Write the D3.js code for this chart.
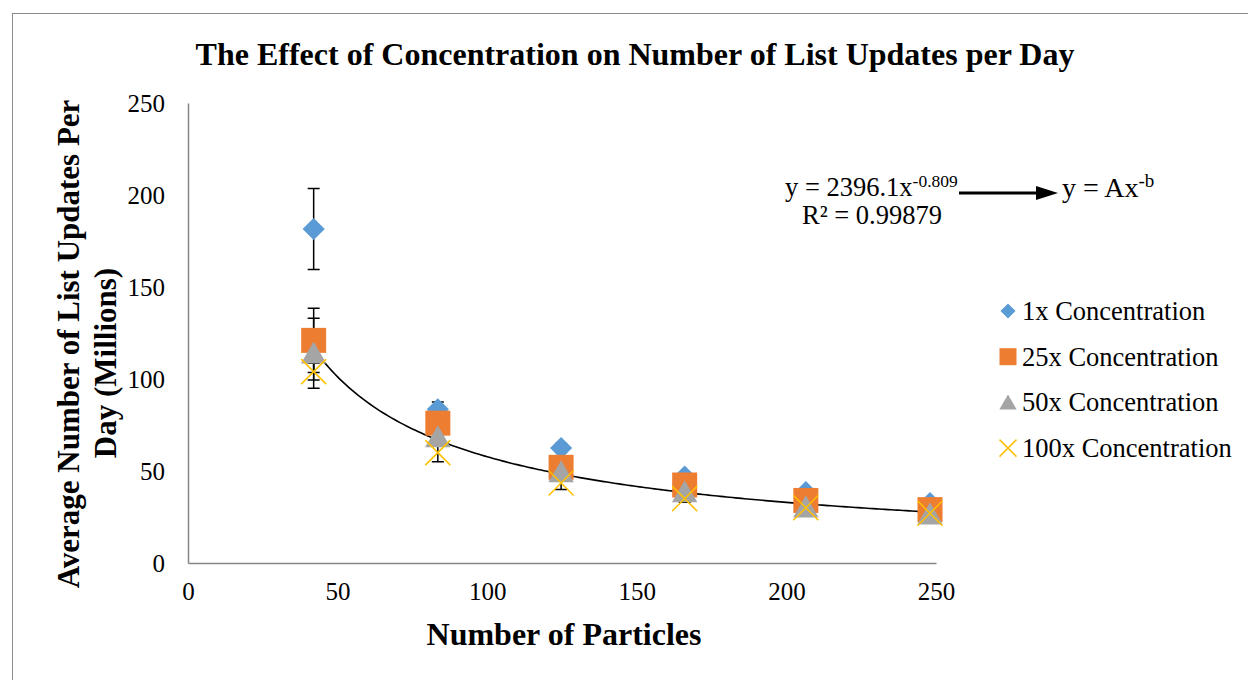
<!DOCTYPE html>
<html>
<head>
<meta charset="utf-8">
<script src="https://cdn.jsdelivr.net/npm/d3@7"></script>
<style>
  body { margin: 0; background: #fff; }
  text { font-family: "Liberation Serif", "Times New Roman", serif; fill: #000; }
</style>
</head>
<body>
<div id="chart"></div>
<script>
// particle counts (x) and mean list updates per day, millions (y)
var particles = [42, 83.5, 124.7, 166, 206.5, 248];
var seriesNames = ['1x Concentration', '25x Concentration', '50x Concentration', '100x Concentration'];
var conc1x   = [181.5, 83.5, 62.5, 47, 38.6, 32.6];
var conc25x  = [121, 76, 52, 42.4, 34, 29];
var conc50x  = [114, 68.5, 49.5, 38.6, 30.4, 26.6];
var conc100x = [104, 60, 43.5, 35, 30, 27];
// error bar half widths
var err1x   = [22, 4, 2.5, 2, 1.5, 1.5];
var err25x  = [17.5, 4, 2.5, 2, 1.5, 1.5];
var err50x  = [19, 5, 3, 2, 1.5, 1.5];
var err100x = [4.5, 5, 3.5, 2, 1.5, 1.5];
var xTicks = [0, 50, 100, 150, 200, 250];
var yTicks = [0, 50, 100, 150, 200, 250];
// power trendline y = A x^-b, as printed on the chart
var trendA = 2396.1, trendB = 0.809;

var series = [
  {name: seriesNames[0], values: conc1x, errs: err1x, shape: d3.symbolDiamond2, color: '#5B9BD5'},
  {name: seriesNames[1], values: conc25x, errs: err25x, shape: d3.symbolSquare, color: '#ED7D31'},
  {name: seriesNames[2], values: conc50x, errs: err50x, shape: d3.symbolTriangle, color: '#A5A5A5'},
  {name: seriesNames[3], values: conc100x, errs: err100x, shape: 'cross', color: '#FFC000'}
];

var W = 1248, H = 680;
var margin = {top: 103, right: 312, bottom: 117, left: 188};
var width = 936 - margin.left;
var height = 563 - margin.top;

var svg = d3.select('#chart').append('svg')
  .attr('width', W)
  .attr('height', H);

// outer chart frame
svg.append('rect')
  .attr('x', 12.5).attr('y', 13.5)
  .attr('width', W).attr('height', H)
  .attr('fill', 'none')
  .attr('stroke', '#8c8c8c')
  .attr('stroke-width', 1);

var x = d3.scaleLinear().domain([0, 250]).range([0, width]);
var y = d3.scaleLinear().domain([0, 250]).range([height, 0]);

var g = svg.append('g')
  .attr('transform', 'translate(' + margin.left + ',' + margin.top + ')');

// x axis
var xAxis = g.append('g')
  .attr('transform', 'translate(0,' + height + ')')
  .call(d3.axisBottom(x).tickValues(xTicks).tickSize(0).tickPadding(19));
// y axis
var yAxis = g.append('g')
  .call(d3.axisLeft(y).tickValues(yTicks).tickSize(0).tickPadding(23));

[xAxis, yAxis].forEach(function(ax) {
  ax.select('.domain').attr('stroke', '#868686').attr('stroke-width', 1.5);
  ax.selectAll('text')
    .style('font-family', '"Liberation Serif", serif')
    .style('font-size', '25px')
    .attr('fill', '#000');
});

// trendline
var trendX = d3.range(particles[0], particles[particles.length - 1] + 0.5, 1);
var trendLine = d3.line()
  .x(function(d) { return x(d); })
  .y(function(d) { return y(trendA * Math.pow(d, -trendB)); });
g.append('path')
  .datum(trendX)
  .attr('d', trendLine)
  .attr('fill', 'none')
  .attr('stroke', '#000')
  .attr('stroke-width', 1.6);

// markers
function drawMarker(sel, s, size) {
  if (s.shape === 'cross') {
    var h = size / 2;
    sel.append('path')
      .attr('d', 'M' + (-h) + ',' + (-h) + 'L' + h + ',' + h + 'M' + (-h) + ',' + h + 'L' + h + ',' + (-h))
      .attr('stroke', s.color)
      .attr('stroke-width', 1.5)
      .attr('fill', 'none');
  } else {
    var area = s.shape === d3.symbolSquare ? size * size :
      s.shape === d3.symbolTriangle ? size * size * 0.45 : size * size * 0.5;
    sel.append('path')
      .attr('d', d3.symbol().type(s.shape).size(area)())
      .attr('fill', s.color)
      .attr('transform', s.shape === d3.symbolTriangle ? 'translate(0,' + (size * 0.12) + ')' : null);
  }
}

// error bars then markers, per series
series.forEach(function(s) {
  var eb = g.append('g');
  particles.forEach(function(px, i) {
    var cx = x(px), hi = y(s.values[i] + s.errs[i]), lo = y(s.values[i] - s.errs[i]);
    eb.append('path')
      .attr('d', 'M' + cx + ',' + hi + 'V' + lo +
        'M' + (cx - 6) + ',' + hi + 'H' + (cx + 6) +
        'M' + (cx - 6) + ',' + lo + 'H' + (cx + 6))
      .attr('stroke', '#000')
      .attr('stroke-width', 1.5)
      .attr('fill', 'none');
  });
});
series.forEach(function(s) {
  particles.forEach(function(px, i) {
    var m = g.append('g')
      .attr('transform', 'translate(' + x(px) + ',' + y(s.values[i]) + ')');
    drawMarker(m, s, 25);
  });
});

// title
svg.append('text')
  .attr('x', 635).attr('y', 65)
  .attr('text-anchor', 'middle')
  .style('font-size', '32px')
  .style('font-weight', 'bold')
  .text('The Effect of Concentration on Number of List Updates per Day');

// axis titles
svg.append('text')
  .attr('x', 564).attr('y', 645)
  .attr('text-anchor', 'middle')
  .style('font-size', '32px')
  .style('font-weight', 'bold')
  .text('Number of Particles');

var yTitle = svg.append('text')
  .attr('transform', 'translate(79,344) rotate(-90)')
  .attr('text-anchor', 'middle')
  .style('font-size', '31px')
  .style('font-weight', 'bold');
yTitle.append('tspan').attr('x', 0).attr('y', 0).text('Average Number of List Updates Per');
yTitle.append('tspan').attr('x', -19).attr('y', 37).text('Day (Millions)');

// trendline equation
var eq = svg.append('text')
  .attr('x', 785).attr('y', 196)
  .style('font-size', '26.5px');
eq.append('tspan').text('y = 2396.1x');
eq.append('tspan').attr('dy', -9).style('font-size', '17.5px').text('-0.809');

svg.append('text')
  .attr('x', 802).attr('y', 224)
  .style('font-size', '26.5px')
  .text('R² = 0.99879');

// arrow
svg.append('line')
  .attr('x1', 959).attr('y1', 193)
  .attr('x2', 1040).attr('y2', 193)
  .attr('stroke', '#000')
  .attr('stroke-width', 3);
svg.append('path')
  .attr('d', 'M1036,186 L1058,193 L1036,200 Z')
  .attr('fill', '#000');

var eq2 = svg.append('text')
  .attr('x', 1062).attr('y', 197)
  .style('font-size', '28px');
eq2.append('tspan').text('y = Ax');
eq2.append('tspan').attr('dy', -10).style('font-size', '19px').text('-b');

// legend
var legend = svg.append('g');
series.forEach(function(s, i) {
  var ly = 311 + i * 45.7;
  var item = legend.append('g').attr('transform', 'translate(1008,' + ly + ')');
  drawMarker(item, s, 17);
  legend.append('text')
    .attr('x', 1022).attr('y', ly + 9)
    .style('font-size', '26.5px')
    .text(s.name);
});
</script>
</body>
</html>
